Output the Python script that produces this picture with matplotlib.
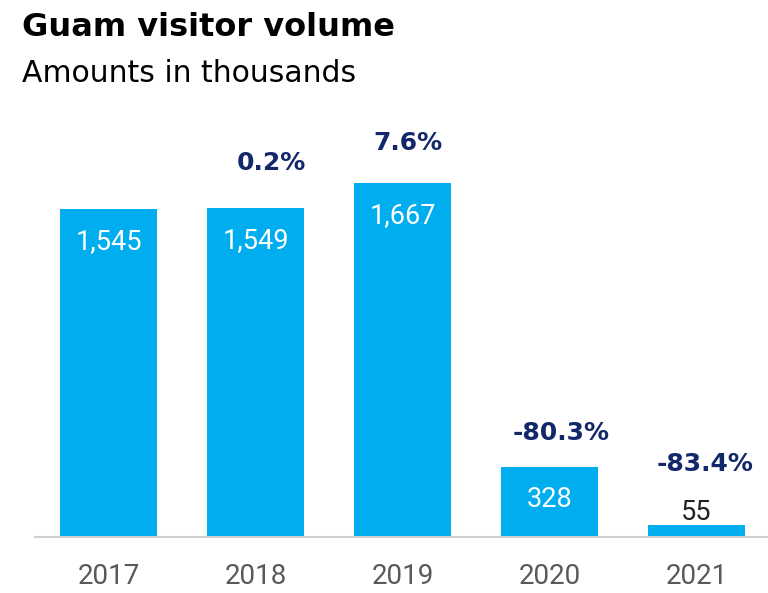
import matplotlib.pyplot as plt

years = ["2017", "2018", "2019", "2020", "2021"]
visitors = [1545, 1549, 1667, 328, 55]
growth = ["", "0.2%", "7.6%", "-80.3%", "-83.4%"]

BAR = "#00AEEF"
NAVY = "#12286A"
GREY = "#595959"

fig = plt.figure(figsize=(7.68, 5.93), dpi=100)
ax = fig.add_axes([35/768, 56/593, 735/768, 437/593])

x = range(len(years))
bars = ax.bar(x, visitors, width=0.66, color=BAR, zorder=2)
ax.set_xlim(-0.5, 4.5)
ax.set_ylim(0, 437/0.2124)

for sp in ["top", "right", "left"]:
    ax.spines[sp].set_visible(False)
ax.spines["bottom"].set_color("#d0d0d0")
ax.spines["bottom"].set_linewidth(1.5)
ax.set_yticks([])
ax.set_xticks(list(x))
ax.set_xticklabels(years, fontfamily="Roboto", fontweight="normal",
                   fontsize=20, color=GREY)
ax.tick_params(axis="x", length=0, pad=19)

# growth label offsets (points) from the top of each bar
pct_dx = [0, 11.5, 4, 8.5, 6.5]
pct_dy = [0, 32.5, 28.5, 24.5, 44.5]
for i, (v, g) in enumerate(zip(visitors, growth)):
    # value labels: inside the bar, or above it when the bar is too short
    if v > 200:
        ax.annotate(f"{v:,}", (i, v), xytext=(0, -23.5), textcoords="offset points",
                    ha="center", va="center", fontsize=19.5, color="white",
                    fontfamily="Roboto", fontweight="normal")
    else:
        ax.annotate(f"{v:,}", (i, v), xytext=(0, 9.5), textcoords="offset points",
                    ha="center", va="center", fontsize=19.5, color="#222222",
                    fontfamily="Roboto", fontweight="normal")
    if g:
        ax.annotate(g, (i, v), xytext=(pct_dx[i], pct_dy[i]), textcoords="offset points",
                    ha="center", va="center", fontsize=18, color=NAVY,
                    fontfamily="DejaVu Sans", fontweight="bold")

fig.text(22/768, 1 - 27/593, "Guam visitor volume", fontsize=23,
         fontweight="bold", fontfamily="DejaVu Sans", color="black", va="center")
fig.text(22/768, 1 - 73/593, "Amounts in thousands", fontsize=21.5,
         fontfamily="DejaVu Sans", color="black", va="center")

fig.savefig("out.png", dpi=100)
